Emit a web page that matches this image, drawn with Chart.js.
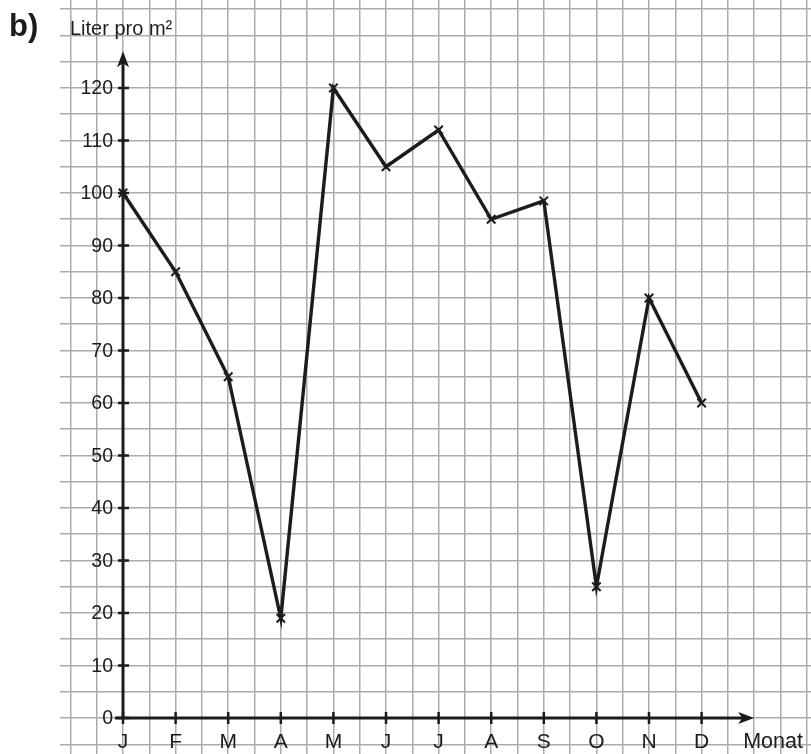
<!DOCTYPE html>
<html>
<head>
<meta charset="utf-8">
<script src="https://cdn.jsdelivr.net/npm/chart.js@4.4.1/dist/chart.umd.min.js"></script>
<style>
  html, body { margin: 0; padding: 0; background: #fff; }
  canvas { display: block; }
</style>
</head>
<body>
<canvas id="rainChart" width="811" height="754"></canvas>
<script>
// Niederschlag pro Monat (Liter pro m²)
const months = ['J', 'F', 'M', 'A', 'M', 'J', 'J', 'A', 'S', 'O', 'N', 'D'];
const rainfall = [100, 85, 65, 19, 120, 105, 112, 95, 98.5, 25, 80, 60];
const yTicks = [0, 10, 20, 30, 40, 50, 60, 70, 80, 90, 100, 110, 120];

const FONT = "'Liberation Sans', Arial, sans-serif";
const INK = '#1c1c1c';

// Achsen, Pfeile und Beschriftungen wie auf Kästchenpapier
const axesPlugin = {
    id: 'paperAxes',
    beforeDatasetsDraw(chart) {
        const { ctx, scales: { x, y } } = chart;
        const x0 = x.getPixelForValue(0);
        const y0 = y.getPixelForValue(0);
        const yTop = y.getPixelForValue(127);
        const xEnd = x.getPixelForValue(12);

        ctx.save();
        ctx.strokeStyle = INK;
        ctx.fillStyle = INK;
        ctx.lineWidth = 3;

        // y-Achse
        ctx.beginPath();
        ctx.moveTo(x0, y0);
        ctx.lineTo(x0, yTop + 10);
        ctx.stroke();
        ctx.beginPath();
        ctx.moveTo(x0, yTop);
        ctx.lineTo(x0 - 6, yTop + 16);
        ctx.lineTo(x0, yTop + 12);
        ctx.lineTo(x0 + 6, yTop + 16);
        ctx.closePath();
        ctx.fill();

        // x-Achse
        ctx.beginPath();
        ctx.moveTo(x0 - 8, y0);
        ctx.lineTo(xEnd - 10, y0);
        ctx.stroke();
        ctx.beginPath();
        ctx.moveTo(xEnd, y0);
        ctx.lineTo(xEnd - 16, y0 - 6);
        ctx.lineTo(xEnd - 12, y0);
        ctx.lineTo(xEnd - 16, y0 + 6);
        ctx.closePath();
        ctx.fill();

        // Striche und Zahlen an der y-Achse
        ctx.lineWidth = 2.5;
        ctx.font = '19.5px ' + FONT;
        ctx.textAlign = 'right';
        ctx.textBaseline = 'middle';
        yTicks.forEach(v => {
            const py = y.getPixelForValue(v);
            ctx.beginPath();
            ctx.moveTo(x0 - 5, py);
            ctx.lineTo(x0 + 6, py);
            ctx.stroke();
            ctx.fillText(String(v), x0 - 10, py + 1);
        });

        // Monate an der x-Achse
        ctx.font = '21px ' + FONT;
        ctx.textAlign = 'center';
        ctx.textBaseline = 'alphabetic';
        months.forEach((m, i) => {
            const px = x.getPixelForValue(i);
            ctx.beginPath();
            ctx.moveTo(px, y0 - 6);
            ctx.lineTo(px, y0 + 6);
            ctx.stroke();
            ctx.fillText(m, px, y0 + 30);
        });

        ctx.textAlign = 'left';
        ctx.font = '21.5px ' + FONT;
        ctx.fillText('Monat', xEnd - 11, y0 + 30);

        // Titel
        ctx.font = '20px ' + FONT;
        ctx.fillText('Liter pro m²', 70, 35);
        ctx.font = 'bold 31px ' + FONT;
        ctx.fillText('b)', 9, 36);
        ctx.restore();
    }
};

new Chart(document.getElementById('rainChart'), {
    type: 'line',
    data: {
        datasets: [{
            data: months.map((m, i) => ({ x: i, y: rainfall[i] })),
            borderColor: INK,
            borderWidth: 3.4,
            tension: 0,
            pointStyle: 'crossRot',
            pointRadius: 6,
            pointBorderWidth: 2,
            pointBorderColor: INK,
            pointBackgroundColor: INK
        }]
    },
    options: {
        responsive: false,
        animation: false,
        layout: { autoPadding: false, padding: { left: 60, right: 0, top: 0, bottom: 0 } },
        scales: {
            x: {
                type: 'linear',
                min: -1.198,
                max: 13.08,
                afterBuildTicks: s => {
                    const t = [];
                    for (let v = -1; v <= 13; v += 0.5) t.push({ value: v });
                    s.ticks = t;
                },
                grid: { color: '#ababab', lineWidth: 1.5, drawTicks: false },
                border: { display: false },
                ticks: { display: false }
            },
            y: {
                type: 'linear',
                min: -6.857,
                max: 136.76,
                afterBuildTicks: s => {
                    const t = [];
                    for (let v = -5; v <= 135; v += 5) t.push({ value: v });
                    s.ticks = t;
                },
                grid: { color: '#ababab', lineWidth: 1.5, drawTicks: false },
                border: { display: false },
                ticks: { display: false }
            }
        },
        plugins: {
            legend: { display: false },
            tooltip: { enabled: false }
        }
    },
    plugins: [axesPlugin]
});
</script>
</body>
</html>
